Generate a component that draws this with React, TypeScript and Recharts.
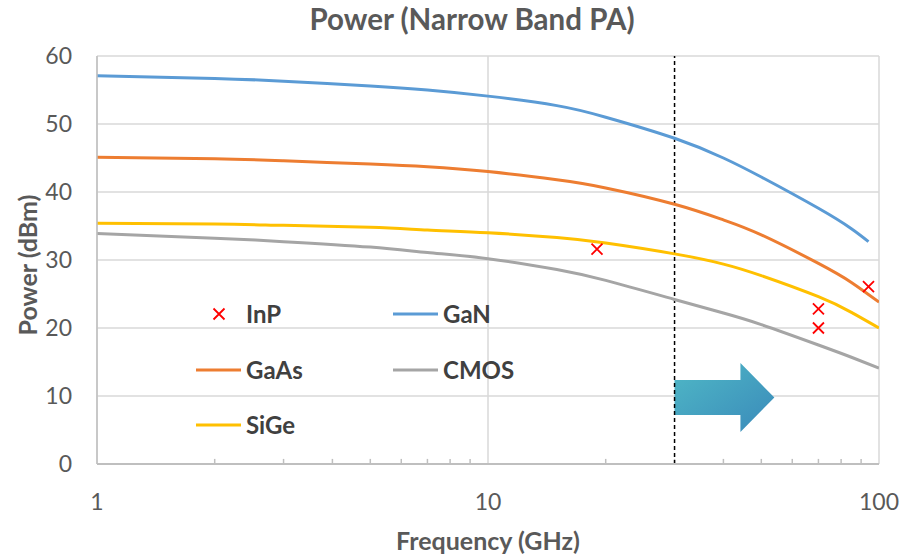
import React from "react"
import {
  ComposedChart,
  Line,
  Scatter,
  XAxis,
  YAxis,
  CartesianGrid,
  ReferenceLine,
  ReferenceArea,
  Label,
} from "recharts"

const FONT = "Lato, 'Open Sans', sans-serif"

// frequency samples (GHz)
const freqs = [1, 2, 3, 5, 7, 10, 15, 20, 30, 40, 50, 70, 85, 100]
const ganFreqs = [1, 2, 3, 5, 7, 10, 15, 20, 30, 40, 50, 70, 85, 94]

// output power (dBm)
const ganPower = [57.1, 56.7, 56.3, 55.6, 55.0, 54.1, 52.7, 51.0, 47.9, 45.0, 42.2, 37.6, 34.6, 32.7]
const gaasPower = [45.1, 44.9, 44.6, 44.1, 43.7, 43.0, 41.8, 40.6, 38.2, 35.9, 33.7, 29.5, 26.7, 23.8]
const sigePower = [35.4, 35.3, 35.1, 34.8, 34.4, 34.0, 33.3, 32.5, 30.9, 29.4, 27.7, 24.6, 22.3, 20.0]
const cmosPower = [33.9, 33.2, 32.7, 31.9, 31.1, 30.2, 28.6, 27.0, 24.2, 22.2, 20.5, 17.5, 15.7, 14.1]

// InP reported devices
const inpFreqs = [19, 70, 70, 94]
const inpPower = [31.6, 22.8, 20.0, 26.1]

const xTicks = [1, 10, 100]
const minorTicks = [2, 3, 4, 5, 6, 7, 8, 9, 20, 30, 40, 50, 60, 70, 80, 90]
const yTicks = [0, 10, 20, 30, 40, 50, 60]

// mmWave region starts here
const bandEdge = 30
const arrowSpan = { x1: 30, x2: 54, y1: 4.7, y2: 14.85 }

const toPoints = (fs: number[], ps: number[]) => fs.map((f, i) => ({ f, p: ps[i] }))

const series = [
  { name: "GaN", color: "#5b9bd5", data: toPoints(ganFreqs, ganPower) },
  { name: "GaAs", color: "#ed7d31", data: toPoints(freqs, gaasPower) },
  { name: "SiGe", color: "#ffc000", data: toPoints(freqs, sigePower) },
  { name: "CMOS", color: "#a5a5a5", data: toPoints(freqs, cmosPower) },
]
const inpData = toPoints(inpFreqs, inpPower)

const Cross = (props: any) => {
  const { cx, cy } = props
  const r = 5.5
  return (
    <path
      d={`M${cx - r},${cy - r}L${cx + r},${cy + r}M${cx - r},${cy + r}L${cx + r},${cy - r}`}
      stroke="#ff0000"
      strokeWidth={1.8}
      fill="none"
    />
  )
}

const Arrow = (props: any) => {
  const { x, y, width: w, height: h } = props
  const head = x + w * 0.66
  const top = y + h * 0.246
  const bot = y + h * 0.754
  const pts = [
    [x, top],
    [head, top],
    [head, y],
    [x + w, y + h / 2],
    [head, y + h],
    [head, bot],
    [x, bot],
  ]
  return <polygon points={pts.map((p) => p.join(",")).join(" ")} fill="url(#arrowFill)" />
}

const legendRows = [
  { name: "InP", kind: "cross", x: 196, y: 314 },
  { name: "GaN", kind: "line", color: "#5b9bd5", x: 393, y: 314 },
  { name: "GaAs", kind: "line", color: "#ed7d31", x: 196, y: 370 },
  { name: "CMOS", kind: "line", color: "#a5a5a5", x: 393, y: 370 },
  { name: "SiGe", kind: "line", color: "#ffc000", x: 196, y: 425 },
]

function Overlay() {
  return (
    <svg
      width={902}
      height={557}
      style={{ position: "absolute", left: 0, top: 0, pointerEvents: "none" }}
    >
      <text
        x={472}
        y={30}
        textAnchor="middle"
        fontFamily={FONT}
        fontWeight={700}
        fontSize={29.5}
        fill="#595959"
      >
        Power (Narrow Band PA)
      </text>
      {legendRows.map((r) => (
        <g key={r.name}>
          {r.kind === "cross" ? (
            <Cross cx={r.x + 23} cy={r.y} />
          ) : (
            <line x1={r.x} x2={r.x + 45} y1={r.y} y2={r.y} stroke={r.color} strokeWidth={3} />
          )}
          <text
            x={r.x + 50}
            y={r.y + 9}
            fontFamily={FONT}
            fontWeight={700}
            fontSize={24}
            fill="#404040"
          >
            {r.name}
          </text>
        </g>
      ))}
    </svg>
  )
}

export default function App() {
  return (
    <div style={{ position: "absolute", left: 0, top: 0, width: 902, height: 557, background: "#fff" }}>
      <ComposedChart width={902} height={557} margin={{ top: 56, right: 23, left: 0, bottom: 0 }}>
        <defs>
          <linearGradient id="arrowFill" x1="0" y1="0" x2="1" y2="1">
            <stop offset="0%" stopColor="#4fb8c6" />
            <stop offset="100%" stopColor="#3a8aba" />
          </linearGradient>
        </defs>
        <CartesianGrid stroke="#d9d9d9" strokeWidth={1.5} />
        <XAxis
          type="number"
          dataKey="f"
          scale="log"
          domain={[1, 100]}
          ticks={xTicks}
          allowDataOverflow
          height={93}
          tickLine={false}
          tickSize={6}
          tickMargin={24}
          axisLine={{ stroke: "#bfbfbf", strokeWidth: 2 }}
          tick={{ fill: "#595959", fontSize: 23, fontFamily: FONT }}
        >
          <Label
            value="Frequency (GHz)"
            position="insideBottom"
            offset={7}
            fill="#595959"
            fontSize={25}
            fontWeight={700}
            fontFamily={FONT}
          />
        </XAxis>
        <YAxis
          type="number"
          domain={[0, 60]}
          ticks={yTicks}
          width={97}
          tickLine={false}
          tickSize={6}
          tickMargin={19}
          axisLine={{ stroke: "#bfbfbf", strokeWidth: 1.5 }}
          tick={{ fill: "#595959", fontSize: 23, fontFamily: FONT }}
          label={(p: any) => {
            const vb = p.viewBox
            const cy = vb.y + vb.height / 2 + 5
            return (
              <text
                x={27}
                y={cy}
                transform={`rotate(-90 27 ${cy})`}
                textAnchor="middle"
                dominantBaseline="central"
                fill="#595959"
                fontSize={25}
                fontWeight={700}
                fontFamily={FONT}
              >
                Power (dBm)
              </text>
            )
          }}
        />
        {minorTicks.map((t) => (
          <ReferenceLine
            key={t}
            segment={[
              { x: t, y: 0 },
              { x: t, y: 0.75 },
            ]}
            stroke="#bfbfbf"
            strokeWidth={1.5}
          />
        ))}
        <ReferenceLine x={bandEdge} stroke="#000" strokeWidth={1.5} strokeDasharray="4 3" />
        <ReferenceArea {...arrowSpan} shape={Arrow} />
        {series.map((s) => (
          <Line
            key={s.name}
            data={s.data}
            dataKey="p"
            name={s.name}
            type="natural"
            stroke={s.color}
            strokeWidth={3}
            dot={false}
            activeDot={false}
            isAnimationActive={false}
          />
        ))}
        <Scatter data={inpData} dataKey="p" name="InP" shape={Cross} isAnimationActive={false} />
      </ComposedChart>
      <Overlay />
    </div>
  )
}
